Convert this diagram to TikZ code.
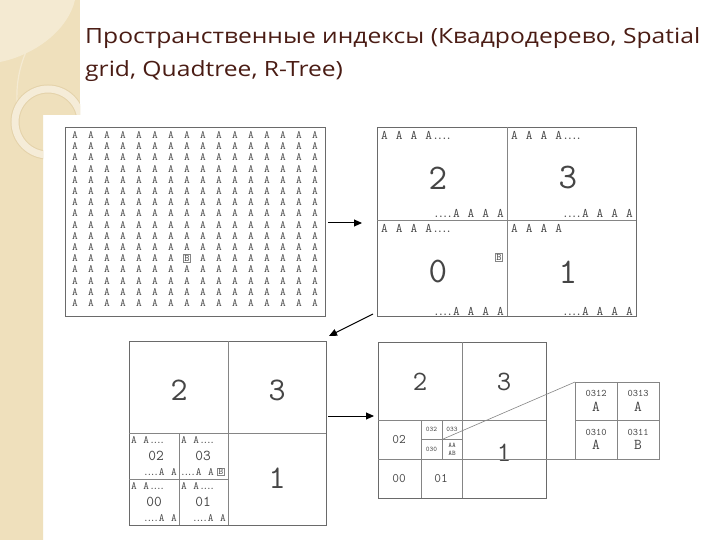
\documentclass[tikz,border=0pt]{standalone}
\usepackage{fontspec}
\setmainfont{Open Sans}
\usetikzlibrary{arrows.meta}
\definecolor{beige}{HTML}{EFE0BC}
\definecolor{beigelight}{HTML}{F4EAD2}
\definecolor{ringcol}{HTML}{F5ECD8}
\definecolor{ringedge}{HTML}{E4D2AA}
\definecolor{titlecol}{HTML}{4A1C14}
\definecolor{txtgrey}{HTML}{454545}
\definecolor{linegrey}{HTML}{858585}
\definecolor{framegrey}{HTML}{6A6A6A}
\newcommand\qsp{\hskip 8pt}
\newcommand\qsq{\hskip 6.5pt}
\newcommand\qdots{\kern0.3pt.\kern-2.3pt.\kern-2.3pt.\kern-2.3pt.}
\newcommand\titlefont{\fontsize{21}{21}\selectfont}
\newsavebox\titlebox
\tikzset{
  frame/.style={draw=framegrey, line width=0.9pt},
  divline/.style={draw=linegrey, line width=0.8pt},
  titletext/.style={text=titlecol, inner sep=0pt},
  ga/.style={font=\fontsize{11}{11}\ttfamily, text=txtgrey, inner sep=0pt},
  gb/.style={font=\fontsize{10}{10}\ttfamily, text=txtgrey, draw=linegrey, line width=0.6pt, inner sep=1pt},
  rowa/.style={font=\fontsize{13}{13}\ttfamily, text=txtgrey, inner sep=0pt},
  rowb/.style={font=\fontsize{11}{11}\ttfamily, text=txtgrey, inner sep=0pt},
  bigdig/.style={font=\fontsize{36}{36}\ttfamily, text=txtgrey, inner sep=0pt},
  middig/.style={font=\fontsize{33}{33}\ttfamily, text=txtgrey, inner sep=0pt},
  smdig/.style={font=\fontsize{28}{28}\ttfamily, text=txtgrey, inner sep=0pt},
  lab/.style={font=\fontsize{15}{15}\ttfamily, text=txtgrey, inner sep=0pt},
  labs/.style={font=\fontsize{13}{13}\ttfamily, text=txtgrey, inner sep=0pt},
  tiny/.style={font=\fontsize{7}{7}\ttfamily, text=txtgrey, inner sep=0pt},
  zlab/.style={font=\fontsize{10}{10}\ttfamily, text=txtgrey, inner sep=0pt},
  zlet/.style={font=\fontsize{15}{15}\ttfamily, text=txtgrey, inner sep=0pt},
  arr/.style={draw=black, line width=1pt, -{Triangle[length=8pt,width=7pt]}},
  zoomline/.style={draw=linegrey, line width=0.6pt}
}
\begin{document}
\sbox\titlebox{\titlefont Пространственные индексы (Квадродерево, Spatial}
\pgfmathsetmacro\tfac{615/\the\wd\titlebox}
\begin{tikzpicture}[x=1pt,y=-1pt]
\useasboundingbox (0,0) rectangle (720,540);
\fill[white] (0,0) rectangle (720,540);
% beige side band with decorations
\begin{scope}
\clip (0,0) -- (80,0) -- (80,115) -- (43,115) -- (43,540) -- (0,540) -- cycle;
\fill[beige] (0,0) rectangle (80,540);
\fill[beigelight] (0,62) .. controls (35,55) and (68,30) .. (75,0) -- (0,0) -- cycle;
\draw[beigelight, line width=1.2pt] (72,0) .. controls (30,25) and (12,70) .. (18,112);
\draw[ringedge, line width=9pt] (48,122) circle (33);
\draw[ringcol, line width=7pt] (48,122) circle (33);
\end{scope}
% title
\node[titletext, anchor=base west] (t1) at (85,44) {\scalebox{\tfac}[1]{\titlefont Пространственные индексы (Квадродерево, Spatial}};
\node[titletext, anchor=base west] (t2) at (85,77) {\scalebox{\tfac}[1]{\titlefont grid, Quadtree, R-Tree)}};

% ---------- panel 1: grid of A ----------
\draw[frame] (65,127) rectangle (325,316);
\foreach \r in {0,...,15}{
  \foreach \c in {0,...,15}{
    \pgfmathtruncatemacro\k{\r*16+\c}
    \ifnum\k=183
      \node[gb] (g\r-\c) at (75+16*\c,135+11.2*\r) {B};
    \else
      \node[ga] (g\r-\c) at (75+16*\c,135+11.2*\r) {A};
    \fi
  }
}

% ---------- panel 2: first split ----------
\draw[frame] (377,127) rectangle (636,316);
\draw[divline] (507,127) -- (507,316);
\draw[divline] (377,220) -- (636,220);
\node[rowa, anchor=west] (p2a) at (381,135) {A\qsp A\qsp A\qsp A\qdots};
\node[bigdig] (p2n2) at (438,178) {2};
\node[rowa, anchor=east] (p2b) at (504,213) {\qdots A\qsp A\qsp A\qsp A};
\node[rowa, anchor=west] (p3a) at (511,135) {A\qsp A\qsp A\qsp A\qdots};
\node[bigdig] (p2n3) at (568,178) {3};
\node[rowa, anchor=east] (p3b) at (633,213) {\qdots A\qsp A\qsp A\qsp A};
\node[rowa, anchor=west] (p0a) at (381,228) {A\qsp A\qsp A\qsp A\qdots};
\node[bigdig] (p2n0) at (438,272) {0};
\node[gb] (p2B) at (499,257) {B};
\node[rowa, anchor=east] (p0b) at (504,311) {\qdots A\qsp A\qsp A\qsp A};
\node[rowa, anchor=west] (p1a) at (511,228) {A\qsp A\qsp A\qsp A};
\node[bigdig] (p2n1) at (568,272) {1};
\node[rowa, anchor=east] (p1b) at (633,311) {\qdots A\qsp A\qsp A\qsp A};

% ---------- panel 3: second split ----------
\draw[frame] (129,341) rectangle (326,525);
\draw[divline] (228,341) -- (228,525);
\draw[divline] (129,433) -- (326,433);
\draw[divline] (179,433) -- (179,525);
\draw[divline] (129,479) -- (228,479);
\node[middig] (p3n2) at (179,390) {2};
\node[middig] (p3n3) at (277,390) {3};
\node[middig] (p3n1) at (277,478) {1};
\node[rowb, anchor=west] (q02a) at (131,440) {A\qsq A\qdots};
\node[rowb, anchor=east] (q02b) at (177,472) {\qdots A\qsq A};
\node[lab] (q02) at (156,456) {02};
\node[rowb, anchor=west] (q03a) at (181,440) {A\qsq A\qdots};
\node[lab] (q03) at (203,456) {03};
\node[rowb, anchor=east] (q03b) at (214,472) {\qdots A\qsq A};
\node[gb, font=\fontsize{9}{9}\ttfamily] (q03B) at (221,472) {B};
\node[rowb, anchor=west] (q00a) at (131,486) {A\qsq A\qdots};
\node[lab] (q00) at (154,502) {00};
\node[rowb, anchor=east] (q00b) at (177,518) {\qdots A\qsq A};
\node[rowb, anchor=west] (q01a) at (181,486) {A\qsq A\qdots};
\node[lab] (q01) at (203,502) {01};
\node[rowb, anchor=east] (q01b) at (226,518) {\qdots A\qsq A};

% ---------- panel 4: third split + zoom ----------
\draw[frame] (378,342) rectangle (546,498);
\draw[divline] (462,342) -- (462,498);
\draw[divline] (378,420) -- (546,420);
\draw[divline] (421,420) -- (421,498);
\draw[divline] (378,459) -- (462,459);
\draw[divline] (442,420) -- (442,459);
\draw[divline] (421,439.5) -- (462,439.5);
\node[smdig] (p4n2) at (420,382) {2};
\node[smdig] (p4n3) at (504,382) {3};
\node[smdig] (p4n1) at (504,453) {1};
\node[labs] (r02) at (399,440) {02};
\node[labs] (r00) at (399,479) {00};
\node[labs] (r01) at (441,479) {01};
\node[tiny] (r032) at (431.5,429.5) {032};
\node[tiny] (r033) at (452,429.5) {033};
\node[tiny] (r030) at (431.5,449.5) {030};
\node[tiny] (r031a) at (452,445.5) {AA};
\node[tiny] (r031b) at (452,453.5) {AB};
\coordinate (c031tl) at (442,439.5);
\coordinate (c031br) at (462,459);
% enlarged cell 031
\draw[frame, draw=linegrey] (575,382) rectangle (659,459);
\draw[divline] (617,382) -- (617,459);
\draw[divline] (575,420.5) -- (659,420.5);
\coordinate (ztl) at (575,382);
\coordinate (zbl) at (575,459);
\draw[zoomline] (c031tl) -- (ztl);
\draw[zoomline] (c031br) -- (zbl);
\node[zlab] (z0312) at (596,393) {0312};
\node[zlet] (z0312a) at (596,407) {A};
\node[zlab] (z0313) at (638,393) {0313};
\node[zlet] (z0313a) at (638,407) {A};
\node[zlab] (z0310) at (596,432) {0310};
\node[zlet] (z0310a) at (596,445) {A};
\node[zlab] (z0311) at (638,432) {0311};
\node[zlet] (z0311b) at (638,445) {B};

% ---------- arrows ----------
\coordinate (a1s) at (328,223);
\coordinate (a1e) at (362,223);
\coordinate (a2s) at (373,314);
\coordinate (a2e) at (329,336);
\coordinate (a3s) at (328,416);
\coordinate (a3e) at (374,416);
\draw[arr] (a1s) -- (a1e);
\draw[arr] (a2s) -- (a2e);
\draw[arr] (a3s) -- (a3e);
\end{tikzpicture}
\end{document}
